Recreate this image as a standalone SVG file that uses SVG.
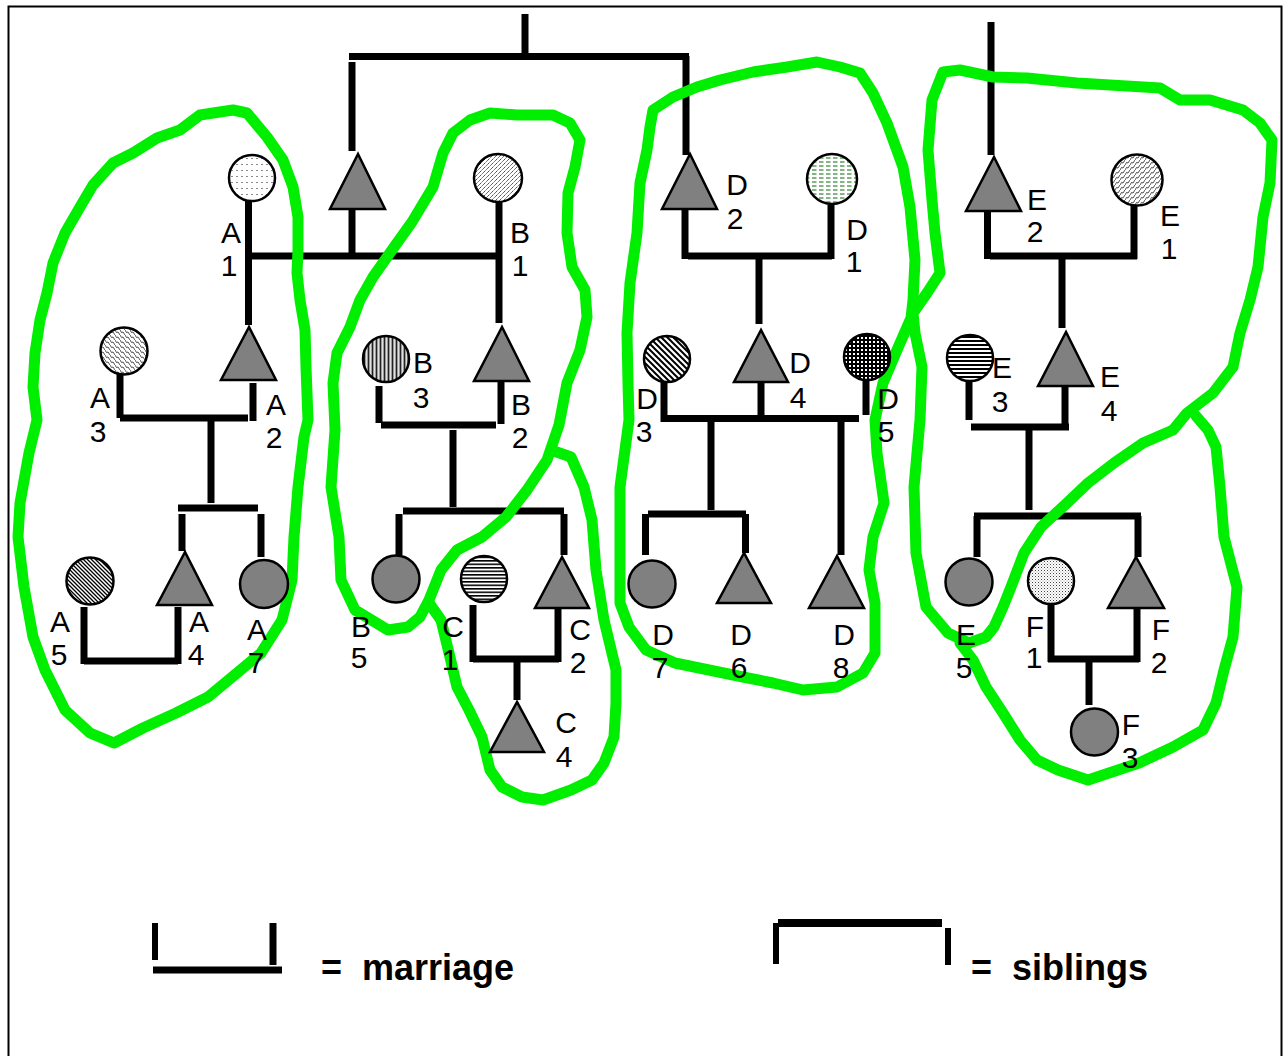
<svg xmlns="http://www.w3.org/2000/svg" width="1285" height="1056" viewBox="0 0 1285 1056">
<defs>
<style>
.ln{stroke:#000;stroke-width:7;fill:none}
.tri{fill:#808080;stroke:#000;stroke-width:2.5}
.cir{stroke:#000;stroke-width:2.5}
.gray{fill:#808080}
.lbl{font-family:"Liberation Sans",Arial,sans-serif;font-size:30px;fill:#000;text-anchor:middle}
.loop{fill:none;stroke:#00ee00;stroke-width:11;stroke-linejoin:round;stroke-linecap:round}
.key{font-family:"Liberation Sans",Arial,sans-serif;font-size:36px;font-weight:bold;fill:#000;white-space:pre}
</style>
<pattern id="pA1" width="5" height="6" patternUnits="userSpaceOnUse"><rect width="5" height="6" fill="#fff"/><rect x="1" y="2" width="2" height="1" fill="#8a8a8a"/></pattern>
<pattern id="pB1" width="4" height="4" patternUnits="userSpaceOnUse"><rect width="4" height="4" fill="#fff"/><path d="M0,4 L4,0" stroke="#4b4b85" stroke-width="1" stroke-dasharray="2.2 1"/></pattern>
<pattern id="pD1" width="7" height="4" patternUnits="userSpaceOnUse"><rect width="7" height="4" fill="#fff"/><path d="M0,2 H4.5" stroke="#0a6a0a" stroke-width="1"/></pattern>
<pattern id="pE1" width="5" height="5" patternUnits="userSpaceOnUse"><rect width="5" height="5" fill="#fff"/><path d="M0,5 L1.5,2.5 L3,3 L5,0" stroke="#222" stroke-width="0.8" fill="none"/></pattern>
<pattern id="pA3" width="5" height="5" patternUnits="userSpaceOnUse"><rect width="5" height="5" fill="#fff"/><path d="M0,0 L1.5,2.5 L3,2 L5,5" stroke="#222" stroke-width="0.8" fill="none"/></pattern>
<pattern id="pA5" width="4" height="4" patternUnits="userSpaceOnUse"><rect width="4" height="4" fill="#fff"/><path d="M-1,-1 L5,5 M-1,3 L1,5 M3,-1 L5,1" stroke="#000" stroke-width="1.3"/></pattern>
<pattern id="pD3" width="6" height="6" patternUnits="userSpaceOnUse"><rect width="6" height="6" fill="#fff"/><path d="M-1,-1 L7,7 M-1,5 L1,7 M5,-1 L7,1" stroke="#000" stroke-width="2"/></pattern>
<pattern id="pD5" width="4" height="4" patternUnits="userSpaceOnUse"><rect width="4" height="4" fill="#000"/><rect x="1" y="1" width="2" height="2" fill="#fff"/></pattern>
<pattern id="pB3" width="4" height="4" patternUnits="userSpaceOnUse"><rect width="4" height="4" fill="#9a9a9a"/><rect width="1" height="4" fill="#222"/><rect x="2" width="1" height="4" fill="#e0e0e0"/></pattern>
<pattern id="pC1" width="4" height="3.5" patternUnits="userSpaceOnUse"><rect width="4" height="3.5" fill="#fff"/><rect width="4" height="1.6" fill="#000"/></pattern>
<pattern id="pE3" width="4" height="4" patternUnits="userSpaceOnUse"><rect width="4" height="4" fill="#fff"/><rect width="4" height="2" fill="#000"/></pattern>
<pattern id="pF1" width="3" height="3" patternUnits="userSpaceOnUse"><rect width="3" height="3" fill="#fff"/><rect width="1" height="1" fill="#444"/><rect x="1.5" y="1.5" width="1" height="1" fill="#999"/></pattern>
</defs>

<rect width="1285" height="1056" fill="#fff"/>
<rect x="8.5" y="6.5" width="1273" height="1070" fill="none" stroke="#000" stroke-width="2"/>

<!-- descent and marriage lines -->
<g id="connectors" class="ln">
  <!-- top generation -->
  <path d="M525,14 V53"/>
  <path d="M349,56.5 H689"/>
  <path d="M352,62 V151"/>
  <path d="M686,56 V155"/>
  <!-- A1 x B1 -->
  <path d="M248.5,197 V325"/>
  <path d="M248,256 H502"/>
  <path d="M499,202 V323"/>
  <path d="M352,209 V256"/>
  <!-- A3 x A2 -->
  <path d="M120,370 V418"/>
  <path d="M120,418 H248"/>
  <path d="M253,383 V421"/>
  <path d="M211,418 V503"/>
  <path d="M178,508 H258"/>
  <path d="M182,514 V551"/>
  <path d="M261,514 V557"/>
  <!-- A5 x A4 -->
  <path d="M84,607 V664"/>
  <path d="M84,661 H178"/>
  <path d="M178,607 V664"/>
  <!-- B3 x B2 -->
  <path d="M379,386 V423"/>
  <path d="M381,425 H496"/>
  <path d="M501,382 V424"/>
  <path d="M453,430 V507"/>
  <path d="M403,511 H564"/>
  <path d="M399,514 V555"/>
  <path d="M564,514 V555"/>
  <!-- C1 x C2 -->
  <path d="M473,605 V662"/>
  <path d="M473,659 H559"/>
  <path d="M558,608 V662"/>
  <path d="M517,659 V700"/>
  <!-- D2 x D1 -->
  <path d="M685,209 V259"/>
  <path d="M688,256 H832"/>
  <path d="M831,205 V259"/>
  <path d="M759,256 V324"/>
  <!-- D3 x D4, D5 -->
  <path d="M664,381 V422"/>
  <path d="M667,418.5 H859"/>
  <path d="M866,381 V415"/>
  <path d="M761,382 V418"/>
  <path d="M711,418 V510"/>
  <path d="M648,514 H746"/>
  <path d="M645.5,514 V555"/>
  <path d="M745.5,514 V553"/>
  <path d="M841,418 V555"/>
  <!-- E2 x E1 -->
  <path d="M991,22 V155"/>
  <path d="M987.5,211 V259"/>
  <path d="M990,256 H1137"/>
  <path d="M1134,205 V259"/>
  <path d="M1062,256 V328"/>
  <!-- E3 x E4 -->
  <path d="M969,381 V420"/>
  <path d="M971,427 H1069"/>
  <path d="M1065,386 V424"/>
  <path d="M1029,427 V510"/>
  <path d="M974,516 H1141"/>
  <path d="M977,516 V557"/>
  <path d="M1138,516 V557"/>
  <!-- F1 x F2 -->
  <path d="M1051,605 V662"/>
  <path d="M1048,659 H1139"/>
  <path d="M1137,608 V662"/>
  <path d="M1089,659 V705"/>
</g>

<!-- hand-drawn group outlines -->
<g id="outlines" class="loop">
  <path id="loop-a" d="M233,110 L247,113 L267,137 L283,160 L293,187 L298,217 L298,250 L297,273 L300,300 L305,330 L306,367 L308,420 L304,437 L298,487 L294,537 L292,580 L282,620 L261,653 L237,673 L208,697 L176,713 L143,728 L114,743 L90,733 L65,710 L45,670 L33,637 L24,587 L18,537 L20,503 L29,453 L37,420 L33,387 L35,353 L40,320 L47,293 L53,263 L65,233 L80,207 L93,185 L113,163 L133,153 L157,138 L180,130 L200,115 Z"/>
  <path id="loop-b" d="M490,113 L517,115 L553,115 L570,123 L580,140 L575,167 L568,193 L567,233 L572,267 L585,290 L587,317 L580,350 L567,383 L559,425 L547,460 L527,490 L506,517 L482,537 L457,550 L441,570 L429,600 L420,617 L408,627 L388,630 L355,610 L341,580 L339,537 L331,487 L335,430 L333,383 L337,353 L350,327 L360,300 L373,277 L392,250 L412,222 L433,187 L443,153 L453,133 L470,120 Z"/>
  <path id="loop-c" d="M551,450 L571,457 L584,487 L592,520 L596,570 L604,620 L616,670 L616,703 L614,737 L604,763 L592,780 L571,790 L543,800 L522,797 L502,787 L490,770 L482,737 L469,710 L457,687 L449,653 L441,620 L429,603"/>
  <path id="loop-d" d="M653,110 L673,97 L697,87 L720,80 L753,72 L787,67 L817,62 L840,67 L860,73 L873,93 L887,123 L903,167 L910,207 L915,260 L913,300 L911,318 L897,350 L883,383 L875,420 L877,453 L884,503 L873,537 L869,570 L875,603 L875,653 L863,673 L837,687 L803,690 L773,683 L743,677 L709,670 L675,663 L646,650 L629,627 L620,603 L620,553 L620,487 L629,420 L628,383 L627,333 L630,283 L637,233 L640,183 L647,150 L650,127 Z"/>
  <path id="loop-e" d="M943,72 L960,70 L993,77 L1027,78 L1077,83 L1110,85 L1160,88 L1180,100 L1210,100 L1243,110 L1260,123 L1272,140 L1270,183 L1263,217 L1258,267 L1250,300 L1240,333 L1233,367 L1213,393 L1187,413 L1173,430 L1143,443 L1114,463 L1088,483 L1067,503 L1041,527 L1024,553 L1011,587 L1003,607 L994,627 L986,637 L969,643 L948,633 L926,607 L916,553 L914,487 L920,420 L922,367 L915,333 L913,313 L927,293 L940,273 L935,233 L932,200 L928,150 L932,100 Z"/>
  <path id="loop-f" d="M1196,416 L1208,430 L1216,447 L1220,487 L1224,537 L1237,587 L1233,637 L1224,670 L1216,703 L1203,730 L1173,747 L1139,763 L1109,773 L1088,780 L1058,770 L1037,760 L1020,740 L1003,713 L986,687 L973,660 L960,643"/>
</g>

<!-- persons -->
<g id="son-top"><polygon class="tri" points="358,154 330,209 385,209"/></g>
<g id="A1"><circle class="cir" cx="252" cy="178" r="23" fill="url(#pA1)"/><text class="lbl"><tspan x="231" y="243">A</tspan><tspan x="229" y="276">1</tspan></text></g>
<g id="B1"><circle class="cir" cx="498" cy="178" r="24" fill="url(#pB1)"/><text class="lbl"><tspan x="520" y="243">B</tspan><tspan x="520" y="276">1</tspan></text></g>
<g id="A2"><polygon class="tri" points="249,327 221,380 276,380"/><text class="lbl"><tspan x="276" y="415">A</tspan><tspan x="274" y="448">2</tspan></text></g>
<g id="A3"><circle class="cir" cx="124" cy="351" r="23.5" fill="url(#pA3)"/><text class="lbl"><tspan x="100" y="408">A</tspan><tspan x="98" y="442">3</tspan></text></g>
<g id="A4"><polygon class="tri" points="185,552 157,605 212,605"/><text class="lbl"><tspan x="199" y="632">A</tspan><tspan x="196" y="665">4</tspan></text></g>
<g id="A5"><circle class="cir" cx="90" cy="581" r="23.5" fill="url(#pA5)"/><text class="lbl"><tspan x="60" y="632">A</tspan><tspan x="59" y="665">5</tspan></text></g>
<g id="A7"><circle class="cir gray" cx="264" cy="584" r="24"/><text class="lbl"><tspan x="257" y="640">A</tspan><tspan x="256" y="673">7</tspan></text></g>
<g id="B2"><polygon class="tri" points="502,327 474,381 529,381"/><text class="lbl"><tspan x="521" y="415">B</tspan><tspan x="520" y="448">2</tspan></text></g>
<g id="B3"><circle class="cir" cx="386" cy="359" r="23" fill="url(#pB3)"/><text class="lbl"><tspan x="423" y="373">B</tspan><tspan x="421" y="408">3</tspan></text></g>
<g id="B5"><circle class="cir gray" cx="396" cy="579" r="23.5"/><text class="lbl"><tspan x="361" y="637">B</tspan><tspan x="359" y="668">5</tspan></text></g>
<g id="C1"><circle class="cir" cx="484" cy="579" r="23" fill="url(#pC1)"/><text class="lbl"><tspan x="453" y="637">C</tspan><tspan x="450" y="670">1</tspan></text></g>
<g id="C2"><polygon class="tri" points="562,557 535,608 589,608"/><text class="lbl"><tspan x="580" y="640">C</tspan><tspan x="578" y="673">2</tspan></text></g>
<g id="C4"><polygon class="tri" points="517,702 490,752 544,752"/><text class="lbl"><tspan x="566" y="733">C</tspan><tspan x="564" y="767">4</tspan></text></g>
<g id="D1"><circle class="cir" cx="832" cy="179" r="25" fill="url(#pD1)"/><text class="lbl"><tspan x="857" y="240">D</tspan><tspan x="854" y="272">1</tspan></text></g>
<g id="D2"><polygon class="tri" points="690,154 662,209 717,209"/><text class="lbl"><tspan x="737" y="195">D</tspan><tspan x="735" y="229">2</tspan></text></g>
<g id="D3"><circle class="cir" cx="667" cy="359" r="23" fill="url(#pD3)"/><text class="lbl"><tspan x="647" y="409">D</tspan><tspan x="644" y="442">3</tspan></text></g>
<g id="D4"><polygon class="tri" points="761,330 734,382 788,382"/><text class="lbl"><tspan x="800" y="373">D</tspan><tspan x="798" y="408">4</tspan></text></g>
<g id="D5"><circle class="cir" cx="867" cy="357" r="23" fill="url(#pD5)"/><text class="lbl"><tspan x="888" y="409">D</tspan><tspan x="886" y="442">5</tspan></text></g>
<g id="D6"><polygon class="tri" points="744,553 717,603 771,603"/><text class="lbl"><tspan x="741" y="645">D</tspan><tspan x="739" y="678">6</tspan></text></g>
<g id="D7"><circle class="cir gray" cx="652" cy="584" r="23.5"/><text class="lbl"><tspan x="663" y="645">D</tspan><tspan x="660" y="678">7</tspan></text></g>
<g id="D8"><polygon class="tri" points="837,556 809,608 864,608"/><text class="lbl"><tspan x="844" y="645">D</tspan><tspan x="841" y="678">8</tspan></text></g>
<g id="E1"><circle class="cir" cx="1137" cy="180" r="25.5" fill="url(#pE1)"/><text class="lbl"><tspan x="1170" y="226">E</tspan><tspan x="1169" y="259">1</tspan></text></g>
<g id="E2"><polygon class="tri" points="994,157 966,211 1021,211"/><text class="lbl"><tspan x="1037" y="210">E</tspan><tspan x="1035" y="242">2</tspan></text></g>
<g id="E3"><circle class="cir" cx="970" cy="358" r="23" fill="url(#pE3)"/><text class="lbl"><tspan x="1002" y="378">E</tspan><tspan x="1000" y="412">3</tspan></text></g>
<g id="E4"><polygon class="tri" points="1066,332 1038,386 1093,386"/><text class="lbl"><tspan x="1110" y="387">E</tspan><tspan x="1109" y="421">4</tspan></text></g>
<g id="E5"><circle class="cir gray" cx="969" cy="582" r="23.5"/><text class="lbl"><tspan x="966" y="645">E</tspan><tspan x="964" y="678">5</tspan></text></g>
<g id="F1"><circle class="cir" cx="1051" cy="581" r="23" fill="url(#pF1)"/><text class="lbl"><tspan x="1035" y="637">F</tspan><tspan x="1034" y="668">1</tspan></text></g>
<g id="F2"><polygon class="tri" points="1136,557 1108,608 1164,608"/><text class="lbl"><tspan x="1161" y="640">F</tspan><tspan x="1159" y="673">2</tspan></text></g>
<g id="F3"><circle class="cir gray" cx="1094.5" cy="732" r="23.5"/><text class="lbl"><tspan x="1131" y="735">F</tspan><tspan x="1130" y="768">3</tspan></text></g>

<!-- key -->
<g id="key-marriage">
  <path class="ln" d="M155,923 V960" style="stroke-width:6"/>
  <path class="ln" d="M273,923 V965"/>
  <path class="ln" d="M153,970 H282"/>
  <text class="key" x="321" y="980" xml:space="preserve">=  marriage</text>
</g>
<g id="key-siblings">
  <path class="ln" d="M778,923 H942" style="stroke-width:8"/>
  <path class="ln" d="M776,923 V964" style="stroke-width:6"/>
  <path class="ln" d="M948,928 V965" style="stroke-width:6"/>
  <text class="key" x="971" y="980" xml:space="preserve">=  siblings</text>
</g>
</svg>
